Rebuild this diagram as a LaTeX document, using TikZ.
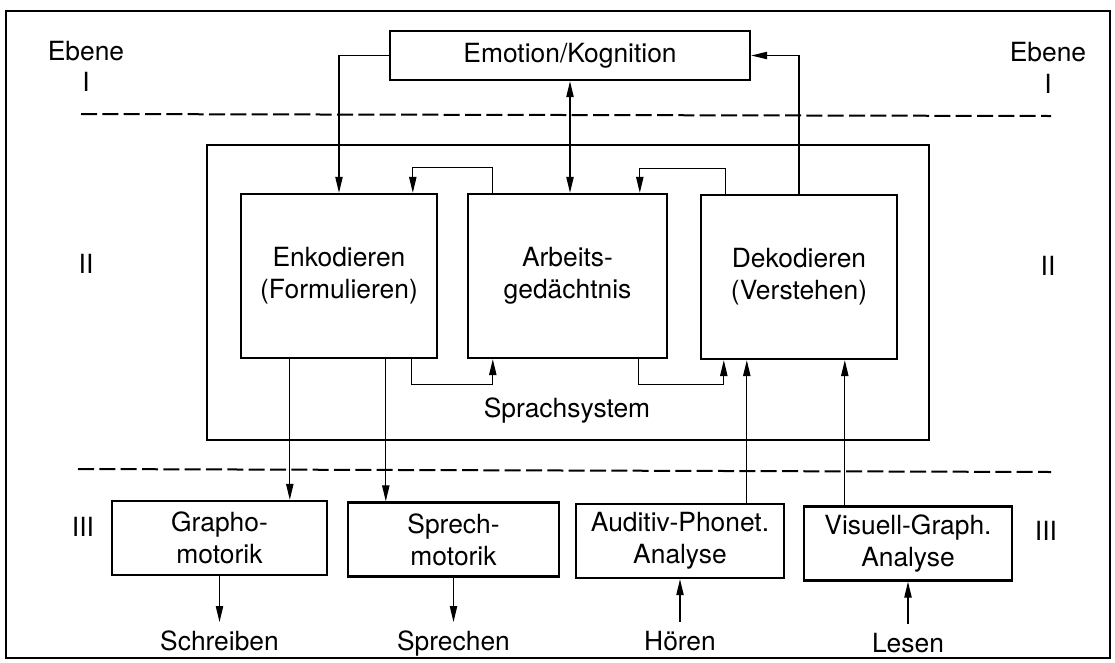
\documentclass[tikz,border=0pt]{standalone}
\usepackage{fontspec}
\setmainfont{TeX Gyre Heros}
\usetikzlibrary{arrows.meta,calc}
\begin{document}
\begin{tikzpicture}[x=0.75pt,y=-0.75pt,
  every node/.style={font=\fontsize{19.8}{24}\selectfont},
  box/.style={draw, line width=1.8pt, align=center, inner sep=0pt},
  conn/.style={line width=0.95pt},
  tip/.tip={Triangle[length=12pt,width=5.5pt]},
  arr/.style={conn, -tip},
  darr/.style={conn, tip-tip},
  sep/.style={line width=1.5pt, dash pattern=on 12pt off 4pt},
  lab/.style={inner sep=0pt, text height=14pt, text depth=4pt, anchor=north}
]
\useasboundingbox (0,0) rectangle (1115,662);
% outer frame
\draw[line width=0.9pt] (6,11) rectangle (1110,658);

% level separators
\draw[sep] (81,114) -- (1051,116);
\draw[sep] (78,469) -- (1051,472);

% level labels
\node (ebL) at (86,51) {Ebene};
\node (iL) at (86,82) {I};
\node (ebR) at (1048,52) {Ebene};
\node (iR) at (1048,84) {I};
\node (iiL) at (86,264) {II};
\node (iiR) at (1048,266) {II};
\node (iiiL) at (83,527) {III};
\node (iiiR) at (1046,531) {III};

% level I
\node[box, minimum width=270pt, minimum height=36.75pt] (emo) at (570,55.5) {Emotion/Kognition};

% level II: language system
\node[draw, line width=1.2pt, minimum width=541.5pt, minimum height=221.25pt] (sys) at (568,292.5) {};
\node (sysl) at (567,411) {Sprachsystem};
\node[box, minimum width=147pt, minimum height=123pt] (enk) at (339,276) {Enkodieren\\(Formulieren)};
\node[box, minimum width=149.25pt, minimum height=123pt] (arb) at (567.5,276) {Arbeits-\\gedächtnis};
\node[box, minimum width=147pt, minimum height=123pt] (dek) at (799,277) {Dekodieren\\(Verstehen)};

% level III
\node[box, minimum width=161.25pt, minimum height=55.5pt] (gra) at (219.5,538) {Grapho-\\motorik};
\node[box, minimum width=158.25pt, minimum height=55.5pt] (spr) at (453.5,539.5) {Sprech-\\motorik};
\node[box, minimum width=156pt, minimum height=55.5pt] (aud) at (680,541) {Auditiv-Phonet.\\Analyse};
\node[box, minimum width=156pt, minimum height=55.5pt] (vis) at (908,543.5) {Visuell-Graph.\\Analyse};

% input / output labels
\node[lab] (schr) at (219.5,632) {Schreiben};
\node[lab] (spre) at (453.5,632) {Sprechen};
\node[lab] (hoer) at (680,632) {Hören};
\node[lab] (lese) at (908,634) {Lesen};

% connections between level I and level II
\draw[arr] (emo.west) -| (enk.north);
\draw[darr] (emo.south) -- (emo.south |- arb.north);
\draw[arr] (dek.north) |- (emo.east);

% loops among the three processors
\draw[arr] ($(arb.north west)+(26,0)$) -- ++(0,-25) -| ($(enk.north west)+(173,0)$);
\draw[arr] ($(dek.north west)+(26,0)$) -- ++(0,-25) -| ($(arb.north west)+(173,0)$);
\draw[arr] ($(enk.south west)+(172,0)$) -- ++(0,25) -| ($(arb.south west)+(26,0)$);
\draw[arr] ($(arb.south west)+(172,0)$) -- ++(0,25) -| ($(dek.south west)+(24,0)$);

% connections between level II and level III
\coordinate (e1) at ($(enk.south west)+(50,0)$);
\coordinate (e2) at ($(enk.south west)+(146,0)$);
\coordinate (d1) at ($(dek.south west)+(47,0)$);
\coordinate (d2) at ($(dek.south west)+(145,0)$);
\draw[arr] (e1) -- (e1 |- gra.north);
\draw[arr] (e2) -- (e2 |- spr.north);
\draw[arr] (d1 |- aud.north) -- (d1);
\draw[arr] (d2 |- vis.north) -- (d2);

% outputs and inputs
\draw[arr, shorten >=7.5pt] (gra.south) -- (schr.north);
\draw[arr, shorten >=7.5pt] (spr.south) -- (spre.north);
\draw[arr, shorten <=7.5pt] (hoer.north) -- (aud.south);
\draw[arr, shorten <=7.5pt] (lese.north) -- (vis.south);
\end{tikzpicture}
\end{document}
